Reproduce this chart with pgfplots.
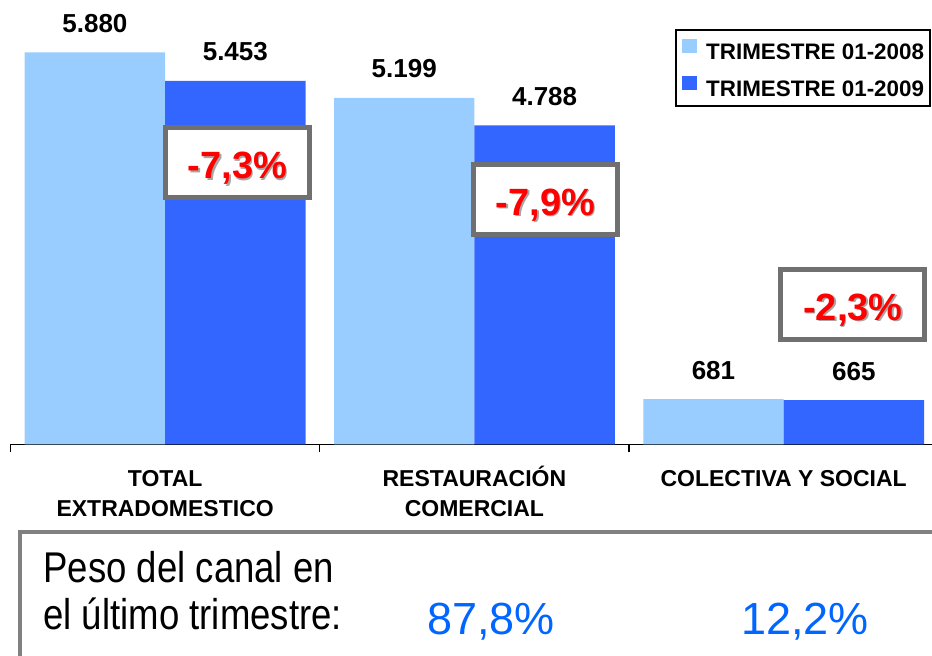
\documentclass[border=0pt]{standalone}
\usepackage{pgfplots}
\pgfplotsset{compat=1.18}
\usepackage{fontspec}
\setmainfont{Liberation Sans}
\newfontfamily\narrowfont{Liberation Sans}[FakeStretch=0.85]
\definecolor{lightbar}{HTML}{99CCFF}
\definecolor{darkbar}{HTML}{3366FF}
\definecolor{boxgray}{HTML}{707070}
\definecolor{framegray}{HTML}{808080}
\definecolor{shadowgray}{HTML}{A6A6A6}
\definecolor{pctblue}{HTML}{0066FF}
\begin{document}
\begin{tikzpicture}
\begin{axis}[
  at={(5.25pt,105.75pt)}, anchor=south west,
  scale only axis, width=463.9pt, height=200pt,
  xmin=-0.5, xmax=2.5, ymin=0, ymax=6000,
  axis x line*=bottom, axis y line=none,
  x axis line style={line width=0.6pt},
  ybar=0pt, bar width=70.2pt,
  xtick={0,1,2},
  xticklabels={{TOTAL\\EXTRADOMESTICO},{RESTAURACIÓN\\COMERCIAL},{COLECTIVA Y SOCIAL\\\phantom{X}}},
  xticklabel style={align=center, font=\bfseries\fontsize{11.5}{15}\selectfont, anchor=base, yshift=-36.25pt, inner sep=0pt},
  major tick length=0pt,
  minor xtick={-0.5,0.5,1.5,2.5}, minor tick length=4pt,
  tick align=outside,
  tick style={black, line width=0.6pt},
  /pgf/number format/assume math mode=true,
  nodes near coords={\pgfmathprintnumber[assume math mode=true,1000 sep={.}]{\pgfplotspointmeta}},
  every node near coord/.append style={anchor=base, yshift=10pt, font=\bfseries\fontsize{13}{13}\selectfont, black},
  legend style={at={(rel axis cs:0.992,1.0385)}, anchor=north east, draw=black, line width=0.8pt,
    font=\bfseries\fontsize{11.2}{11.2}\selectfont, inner xsep=3pt, inner ysep=4.5pt, row sep=8pt, column sep=4.5pt,
    nodes={inner sep=0pt, text height=8pt, text depth=0pt}},
  legend cell align=left,
  legend image code/.code={\fill[#1] (0pt,-0.5pt) rectangle (7.5pt,6.5pt);},
  clip=false,
]
\addplot[fill=lightbar, draw=none] coordinates {(0,5880) (1,5199) (2,681)};
\addplot[fill=darkbar, draw=none] coordinates {(0,5453) (1,4788) (2,665)};
\legend{TRIMESTRE 01-2008, TRIMESTRE 01-2009}
% percentage change boxes
\node[draw=boxgray, line width=2.5pt, fill=white, minimum width=72pt, minimum height=35pt, inner sep=0pt] at (axis cs:0.234,4230) {};
\node[draw=boxgray, line width=2.5pt, fill=white, minimum width=72pt, minimum height=35pt, inner sep=0pt] at (axis cs:1.230,3682) {};
\node[draw=boxgray, line width=2.5pt, fill=white, minimum width=72pt, minimum height=35pt, inner sep=0pt] at (axis cs:2.224,2107) {};
\node[anchor=base, inner sep=0pt, text=shadowgray, font=\bfseries\fontsize{19}{19}\selectfont] at ([shift={(0.8pt,-8.9pt)}]axis cs:0.234,4230) {-7,3\%};
\node[anchor=base, inner sep=0pt, text=red, font=\bfseries\fontsize{19}{19}\selectfont] at ([shift={(0pt,-8.25pt)}]axis cs:0.234,4230) {-7,3\%};
\node[anchor=base, inner sep=0pt, text=shadowgray, font=\bfseries\fontsize{19}{19}\selectfont] at ([shift={(0.8pt,-8.9pt)}]axis cs:1.230,3682) {-7,9\%};
\node[anchor=base, inner sep=0pt, text=red, font=\bfseries\fontsize{19}{19}\selectfont] at ([shift={(0pt,-8.25pt)}]axis cs:1.230,3682) {-7,9\%};
\node[anchor=base, inner sep=0pt, text=shadowgray, font=\bfseries\fontsize{19}{19}\selectfont] at ([shift={(0.8pt,-8.9pt)}]axis cs:2.224,2107) {-2,3\%};
\node[anchor=base, inner sep=0pt, text=red, font=\bfseries\fontsize{19}{19}\selectfont] at ([shift={(0pt,-8.25pt)}]axis cs:2.224,2107) {-2,3\%};
\end{axis}
% bottom panel
\draw[framegray, line width=2pt, fill=white] (10pt,62pt) rectangle (520pt,-30pt);
\node[anchor=base west, inner sep=0pt, font=\narrowfont\fontsize{21.5}{21.5}\selectfont] at (21.5pt,36.5pt) {Peso del canal en};
\node[anchor=base west, inner sep=0pt, font=\narrowfont\fontsize{21.5}{21.5}\selectfont] at (21.5pt,13pt) {el último trimestre:};
\node[anchor=base west, inner sep=0pt, text=pctblue, font=\fontsize{22.5}{22.5}\selectfont] at (213.5pt,10.5pt) {87,8\%};
\node[anchor=base west, inner sep=0pt, text=pctblue, font=\fontsize{22.5}{22.5}\selectfont] at (370.5pt,10.5pt) {12,2\%};
\pgfresetboundingbox
\path[use as bounding box] (0pt,0pt) rectangle (466pt,328pt);
\end{tikzpicture}
\end{document}
